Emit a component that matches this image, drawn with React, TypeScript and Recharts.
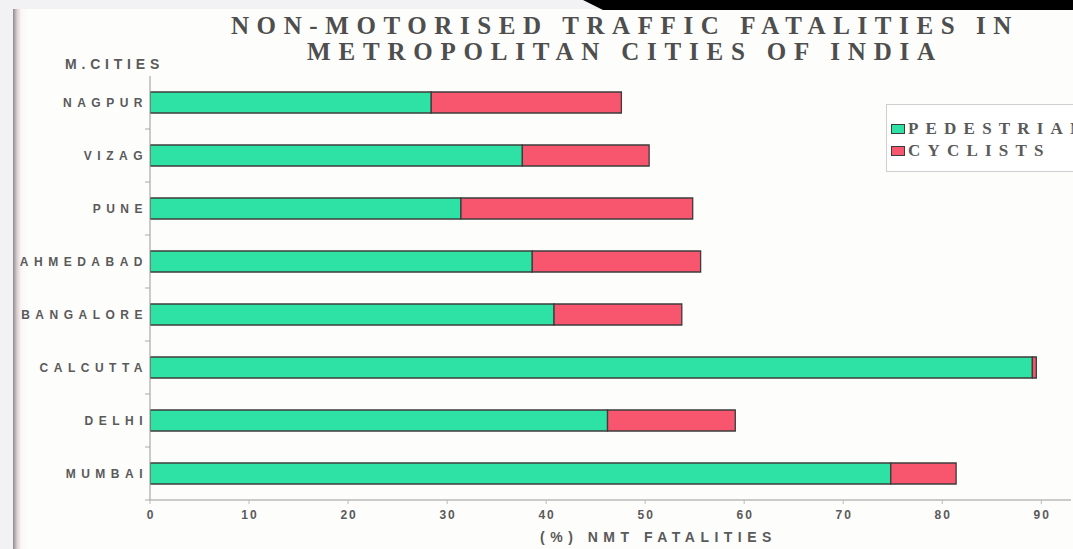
import React from "react";
import { BarChart, Bar, XAxis, YAxis, Legend } from "recharts";

// NMT fatality shares (%) by metropolitan city
const cities = ["NAGPUR", "VIZAG", "PUNE", "AHMEDABAD", "BANGALORE", "CALCUTTA", "DELHI", "MUMBAI"];
const pedestrians = [28.4, 37.6, 31.4, 38.6, 40.8, 89.1, 46.2, 74.8];
const cyclists = [19.2, 12.8, 23.4, 17.0, 12.9, 0.4, 12.9, 6.6];
const xTicks = [0, 10, 20, 30, 40, 50, 60, 70, 80, 90];
const seriesOrder = ["PEDESTRIANS", "CYCLISTS"];

const titleLines = ["NON-MOTORISED TRAFFIC FATALITIES IN", "METROPOLITAN CITIES OF INDIA"];
const axisTitle = "(%) NMT FATALITIES";
const cityAxisTitle = "M.CITIES";

const GREEN = "#2ee2a6";
const RED = "#f8566f";
const EDGE = "#3c3c3c";
const INK = "#5a5a5a";
const SANS = "'Liberation Sans', Arial, sans-serif";
const SERIF = "'Liberation Serif', 'Times New Roman', serif";

const data = cities.map((city, i) => ({
  city,
  pedestrians: pedestrians[i],
  cyclists: cyclists[i],
}));

const W = 1073;
const H = 549;

// city label, plus a small mark on the axis at the lower edge of each band
function CityTick(props: any) {
  const { x, y, payload } = props;
  const axisX = x + 7;
  return (
    <g>
      <line x1={axisX - 5} y1={y + 26.5} x2={axisX} y2={y + 26.5} stroke="#aaa" strokeWidth={1} />
      <text
        x={x + 5}
        y={y}
        dy={4}
        textAnchor="end"
        fontFamily={SANS}
        fontWeight={700}
        fontSize={12}
        letterSpacing={5.5}
        fill={INK}
      >
        {payload.value}
      </text>
    </g>
  );
}

function ValueTick(props: any) {
  const { x, y, payload } = props;
  return (
    <text
      x={x + 1}
      y={y}
      dy={13}
      textAnchor="middle"
      fontFamily={SANS}
      fontWeight={700}
      fontSize={12}
      letterSpacing={2}
      fill={INK}
    >
      {payload.value}
    </text>
  );
}

function AxisTitle(props: any) {
  const vb = props.viewBox ?? { x: 150, y: 500, width: 921, height: 40 };
  return (
    <text
      x={vb.x + vb.width / 2 + 48}
      y={vb.y + 42}
      textAnchor="middle"
      fontFamily={SANS}
      fontWeight={700}
      fontSize={14}
      letterSpacing={5.5}
      fill={INK}
    >
      {axisTitle}
    </text>
  );
}

function LegendBox(props: any) {
  const items = [...(props.payload ?? [])].sort(
    (a: any, b: any) => seriesOrder.indexOf(a.value) - seriesOrder.indexOf(b.value)
  );
  return (
    <div
      style={{
        width: 230,
        height: 68,
        boxSizing: "border-box",
        border: "1px solid #cfcfcf",
        background: "#fff",
        padding: "13px 0 0 4px",
      }}
    >
      {items.map((item: any) => (
        <div
          key={item.value}
          style={{
            display: "flex",
            alignItems: "center",
            height: 22,
            whiteSpace: "nowrap",
          }}
        >
          <span
            style={{
              display: "inline-block",
              width: 12,
              height: 8,
              background: item.color,
              border: `1px solid ${EDGE}`,
              marginRight: 3,
            }}
          />
          <span
            style={{
              fontFamily: SERIF,
              fontWeight: 700,
              fontSize: 17,
              letterSpacing: 7.2,
              color: INK,
            }}
          >
            {item.value}
          </span>
        </div>
      ))}
    </div>
  );
}

export default function App() {
  return (
    <div
      style={{
        position: "fixed",
        left: 0,
        top: 0,
        width: W,
        height: H,
        overflow: "hidden",
        background: "#f2f2f4",
      }}
    >
      {/* slide surface */}
      <div
        style={{
          position: "absolute",
          left: 13,
          top: 9,
          right: 0,
          bottom: 0,
          background: "linear-gradient(to right, #8e8a8e 0px, #d9cfd2 4px, #fbf5f6 8px, #fdfdfb 14px)",
        }}
      />
      <div
        style={{
          position: "absolute",
          left: 0,
          top: 0,
          width: W,
          height: 10,
          background: "#000",
          clipPath: "polygon(583px 0, 1073px 0, 1073px 10px, 603px 10px)",
        }}
      />

      {/* heading */}
      <div
        style={{
          position: "absolute",
          left: 125,
          top: 13,
          width: 1000,
          textAlign: "center",
          fontFamily: SERIF,
          fontWeight: 700,
          fontSize: 25,
          lineHeight: "26px",
          color: "#4e4e4e",
        }}
      >
        <div style={{ letterSpacing: 7.6 }}>{titleLines[0]}</div>
        <div style={{ letterSpacing: 7.8 }}>{titleLines[1]}</div>
      </div>

      <div
        style={{
          position: "absolute",
          left: 65,
          top: 56,
          fontFamily: SANS,
          fontWeight: 700,
          fontSize: 14,
          letterSpacing: 4.8,
          color: INK,
        }}
      >
        {cityAxisTitle}
      </div>

      <div style={{ position: "absolute", left: 0, top: 0 }}>
        <BarChart
          width={W}
          height={H}
          data={data}
          layout="vertical"
          barSize={21}
          margin={{ top: 76, right: 2, bottom: 9, left: 0 }}
        >
          <XAxis
            type="number"
            domain={[0, 93]}
            ticks={xTicks}
            allowDataOverflow
            tick={<ValueTick />}
            tickSize={4}
            tickLine={{ stroke: "#bbb" }}
            axisLine={{ stroke: "#999" }}
            height={40}
            label={<AxisTitle />}
          />
          <XAxis
            xAxisId="top"
            orientation="top"
            type="number"
            domain={[0, 93]}
            tick={false}
            tickLine={false}
            height={0}
            axisLine={{ stroke: "#c4c4c4", strokeDasharray: "2 3" }}
          />
          <YAxis
            type="category"
            dataKey="city"
            width={150}
            tickSize={0}
            tickMargin={7}
            tick={<CityTick />}
            axisLine={{ stroke: "#999" }}
          />
          <Legend
            layout="vertical"
            align="center"
            verticalAlign="middle"
            content={<LegendBox />}
            wrapperStyle={{ position: "absolute", left: 886, top: 104, width: 230 }}
          />
          <Bar
            dataKey="pedestrians"
            name="PEDESTRIANS"
            stackId="nmt"
            fill={GREEN}
            stroke={EDGE}
            strokeWidth={1.3}
            isAnimationActive={false}
          />
          <Bar
            dataKey="cyclists"
            name="CYCLISTS"
            stackId="nmt"
            fill={RED}
            stroke={EDGE}
            strokeWidth={1.3}
            isAnimationActive={false}
          />
        </BarChart>
      </div>
    </div>
  );
}
